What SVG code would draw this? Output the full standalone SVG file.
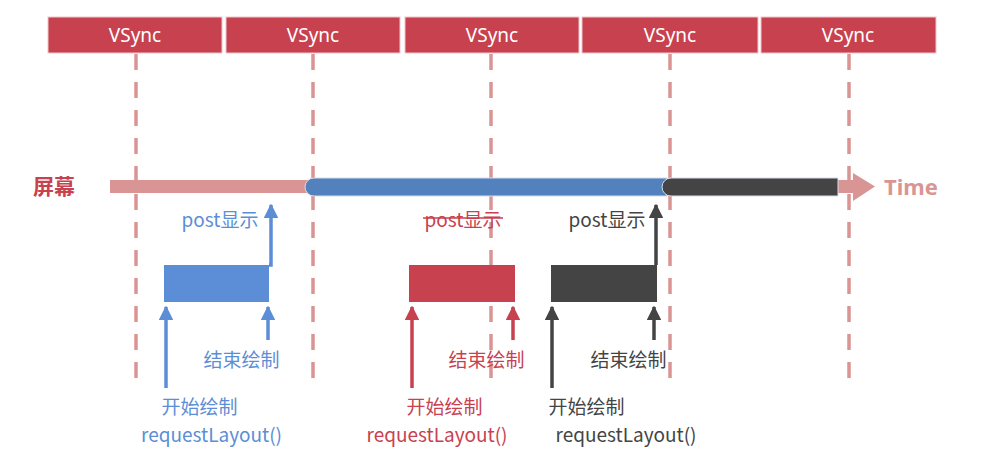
<svg xmlns="http://www.w3.org/2000/svg" width="996" height="464" viewBox="0 0 996 464">
<defs>
<style>
.vs{fill:#c8414f;stroke:#f0c8cc;stroke-width:1}
.vst{font-family:"Noto Sans","Noto Sans CJK SC",sans-serif;font-size:19px;fill:#ffffff;text-anchor:middle}
.dash{stroke:#d99594;stroke-width:3.5;stroke-dasharray:16 12;fill:none}
.t{font-family:"Noto Sans CJK SC","Noto Sans",sans-serif;font-size:19px;text-anchor:middle}
.b{fill:#5b8ed6}
.r{fill:#c8414f}
.k{fill:#444444}
.bl{stroke:#5b8ed6;stroke-width:3.5;fill:none}
.rl{stroke:#c8414f;stroke-width:3.5;fill:none}
.kl{stroke:#444444;stroke-width:3.5;fill:none}
</style>
<marker id="ab" viewBox="0 0 10 10" refX="9" refY="5" markerWidth="4.2" markerHeight="4.2" orient="auto" markerUnits="strokeWidth"><path d="M0,0 L10,5 L0,10 z" fill="#5b8ed6"/></marker>
<marker id="ar" viewBox="0 0 10 10" refX="9" refY="5" markerWidth="4.2" markerHeight="4.2" orient="auto" markerUnits="strokeWidth"><path d="M0,0 L10,5 L0,10 z" fill="#c8414f"/></marker>
<marker id="ak" viewBox="0 0 10 10" refX="9" refY="5" markerWidth="4.2" markerHeight="4.2" orient="auto" markerUnits="strokeWidth"><path d="M0,0 L10,5 L0,10 z" fill="#444444"/></marker>
</defs>
<rect width="996" height="464" fill="#ffffff"/>

<g id="vsync">
<g id="vsync1"><rect class="vs" x="48" y="17" width="174" height="36"/><text class="vst" x="135" y="42">VSync</text></g>
<g id="vsync2"><rect class="vs" x="226" y="17" width="174" height="36"/><text class="vst" x="313" y="42">VSync</text></g>
<g id="vsync3"><rect class="vs" x="405" y="17" width="174" height="36"/><text class="vst" x="492" y="42">VSync</text></g>
<g id="vsync4"><rect class="vs" x="582" y="17" width="176" height="36"/><text class="vst" x="670" y="42">VSync</text></g>
<g id="vsync5"><rect class="vs" x="761" y="17" width="175" height="36"/><text class="vst" x="848" y="42">VSync</text></g>
</g>

<g id="grid">
<line class="dash" x1="136" y1="54" x2="136" y2="383"/>
<line class="dash" x1="313" y1="54" x2="313" y2="383"/>
<line class="dash" x1="491" y1="54" x2="491" y2="383"/>
<line class="dash" x1="670" y1="54" x2="670" y2="383"/>
<line class="dash" x1="849" y1="54" x2="849" y2="383"/>
</g>

<g id="screen">
<text x="33" y="194" font-family="'Noto Sans CJK SC',sans-serif" font-size="21" font-weight="bold" fill="#c8414f">屏幕</text>
<rect x="110" y="180" width="745" height="13" fill="#d99594"/>
<path d="M853,173 L875,186.5 L853,201 z" fill="#d99594"/>
<text x="884" y="195" font-family="'Noto Sans',sans-serif" font-size="22" font-weight="bold" fill="#d99594">Time</text>
<path d="M314,178 L667,178 L667,196 L314,196 A9,9 0 0 1 314,178 z" fill="#5281be" stroke="#d6dde8" stroke-width="1"/>
<path d="M671,178 L838,178 L838,196 L671,196 A9,9 0 0 1 671,178 z" fill="#444444" stroke="#d6dde8" stroke-width="1"/>
</g>

<g id="frame-blue">
<rect x="164" y="265" width="105" height="37" class="b"/>
<text class="t b" x="220" y="227">post显示</text>
<text class="t b" x="241.5" y="367">结束绘制</text>
<text class="t b" x="199.5" y="414">开始绘制</text>
<text class="t b" x="211.5" y="442">requestLayout()</text>
</g>

<g id="frame-red">
<rect x="409" y="265" width="106" height="37" class="r"/>
<text class="t r" x="463" y="227">post显示</text>
<line x1="423" y1="218" x2="503" y2="218" stroke="#c8414f" stroke-width="1.5"/>
<text class="t r" x="486.5" y="367">结束绘制</text>
<text class="t r" x="444.5" y="414">开始绘制</text>
<text class="t r" x="437" y="442">requestLayout()</text>
</g>

<g id="frame-dark">
<rect x="551" y="265" width="106" height="37" class="k"/>
<text class="t k" x="607" y="227">post显示</text>
<text class="t k" x="628.5" y="367">结束绘制</text>
<text class="t k" x="586.5" y="414">开始绘制</text>
<text class="t k" x="626" y="442">requestLayout()</text>
</g>

<g id="connectors">
<polyline class="bl" points="269,265 271,265 271,205" marker-end="url(#ab)"/>
<line class="bl" x1="166" y1="388" x2="166" y2="307" marker-end="url(#ab)"/>
<line class="bl" x1="268" y1="340" x2="268" y2="307" marker-end="url(#ab)"/>
<line class="rl" x1="412" y1="388" x2="412" y2="307" marker-end="url(#ar)"/>
<line class="rl" x1="513" y1="340" x2="513" y2="307" marker-end="url(#ar)"/>
<polyline class="kl" points="657,265 656,265 656,205" marker-end="url(#ak)"/>
<line class="kl" x1="552" y1="388" x2="552" y2="307" marker-end="url(#ak)"/>
<line class="kl" x1="654" y1="340" x2="654" y2="307" marker-end="url(#ak)"/>
</g>
</svg>
